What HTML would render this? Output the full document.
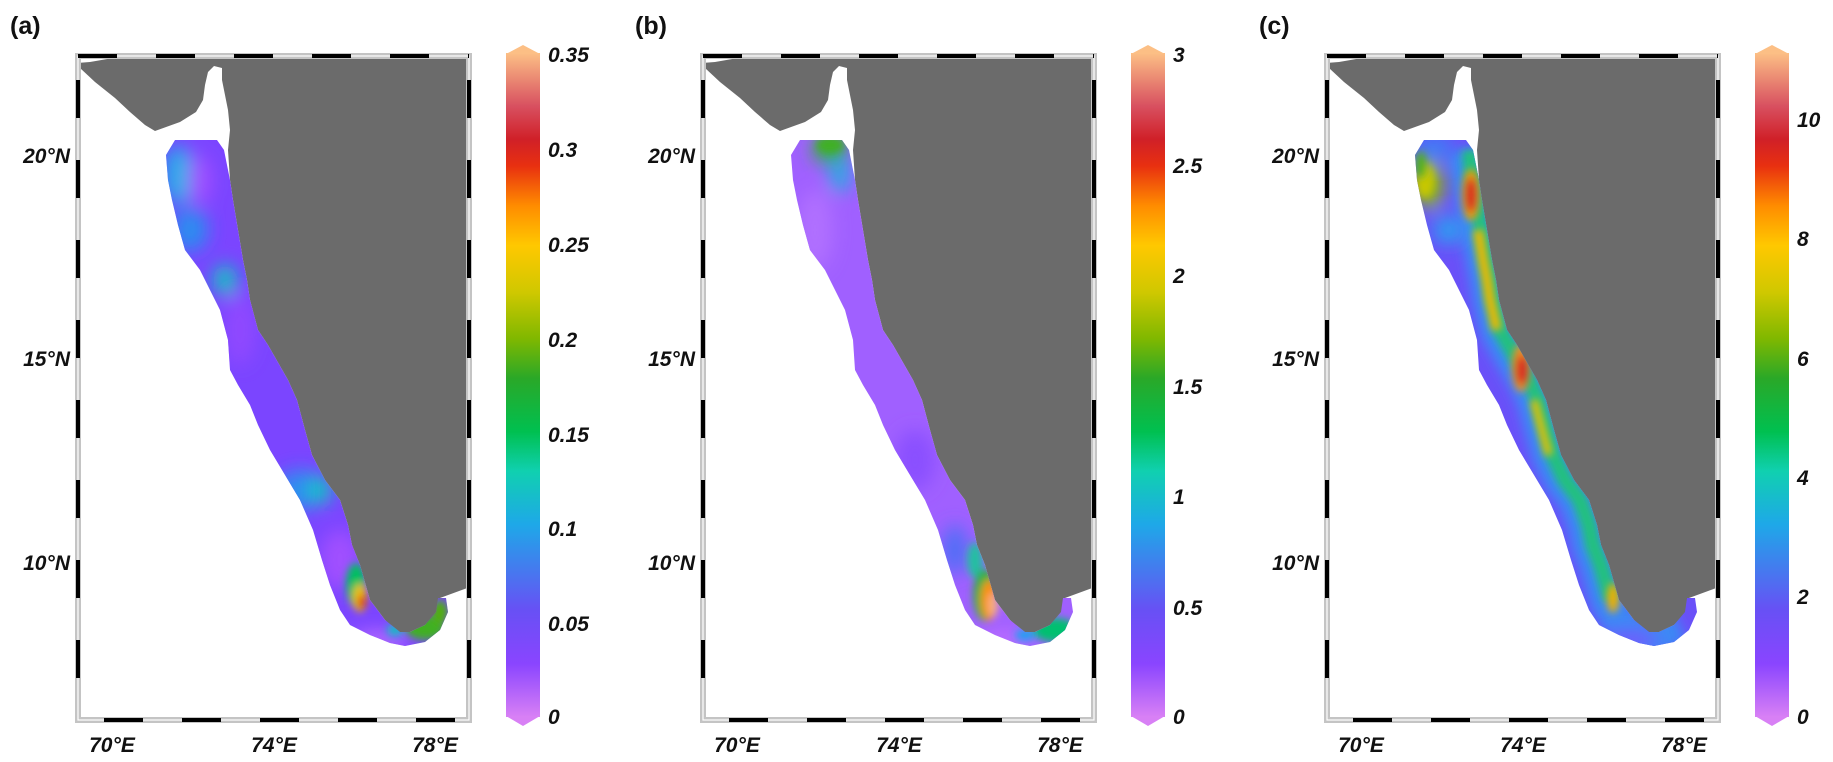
<!DOCTYPE html>
<html><head><meta charset="utf-8"><style>
html,body{margin:0;padding:0;background:#fff;}
svg{display:block;}
text{font-family:"Liberation Sans",Arial,sans-serif;font-weight:bold;fill:#111;}
.t{font-style:italic;font-size:21px;}
.p{font-size:25px;}
</style></head><body>
<svg width="1833" height="762" viewBox="0 0 1833 762" xmlns="http://www.w3.org/2000/svg">
<defs>
<linearGradient id="cm" x1="0" y1="717" x2="0" y2="53" gradientUnits="userSpaceOnUse">
<stop offset="0" stop-color="#d880f5"/>
<stop offset="0.08" stop-color="#8a45ff"/>
<stop offset="0.16" stop-color="#6850f5"/>
<stop offset="0.29" stop-color="#1ea8e8"/>
<stop offset="0.37" stop-color="#10d0b0"/>
<stop offset="0.43" stop-color="#00c050"/>
<stop offset="0.51" stop-color="#2aa828"/>
<stop offset="0.57" stop-color="#80b800"/>
<stop offset="0.64" stop-color="#d0c800"/>
<stop offset="0.71" stop-color="#ffc800"/>
<stop offset="0.77" stop-color="#ff8c00"/>
<stop offset="0.83" stop-color="#e83010"/>
<stop offset="0.87" stop-color="#d02028"/>
<stop offset="0.92" stop-color="#d85060"/>
<stop offset="1" stop-color="#fcbf85"/>
</linearGradient>
<clipPath id="band"><polygon points="175,140 217,140 224,150 230,180 233,200 238,230 243,260 247,280 250,300 258,330 268,345 288,380 297,400 305,430 312,455 325,480 340,500 348,525 352,545 360,565 370,600 385,620 400,632 410,632 425,625 436,612 438,598 446,598 448,612 440,630 425,642 405,646 390,643 370,635 350,625 340,610 330,585 322,560 313,530 300,500 285,475 270,450 258,425 250,405 238,385 230,370 228,340 220,310 210,290 200,270 185,250 178,225 172,200 168,180 166,155"/></clipPath>
<filter id="bl" x="-50%" y="-50%" width="200%" height="200%"><feGaussianBlur stdDeviation="9"/></filter>
<filter id="bs" x="-50%" y="-50%" width="200%" height="200%"><feGaussianBlur stdDeviation="4"/></filter>
<filter id="bm" x="-50%" y="-50%" width="200%" height="200%"><feGaussianBlur stdDeviation="6"/></filter>
<g id="frame">
<polygon fill="#6b6b6b" points="113,58 470,58 470,587 440,598 438,612 425,625 410,632 400,634 385,620 370,600 360,565 352,545 348,525 340,500 325,480 312,455 305,430 297,400 288,380 268,345 258,330 250,300 247,280 243,260 238,230 233,200 230,180 228,150 230,130 228,110 225,95 222,80 222,68 214,66 208,72 205,85 203,100 196,112 180,122 155,131 145,125 130,112 115,98 95,82 80,68 77,63 90,62"/>
<rect x="78" y="56" width="391" height="664" fill="none" stroke="#c4c4c4" stroke-width="6"/>
<rect x="78" y="56" width="391" height="664" fill="none" stroke="#fff" stroke-width="1.2"/>
<line x1="78" y1="56" x2="469" y2="56" stroke="#000" stroke-width="4" stroke-dasharray="39 39"/>
<line x1="78" y1="720" x2="469" y2="720" stroke="#000" stroke-width="4" stroke-dasharray="0 26 39 39 39 39 39 39 39 39 39 39"/>
<line x1="78" y1="80" x2="78" y2="720" stroke="#000" stroke-width="4" stroke-dasharray="38 42"/>
<line x1="469" y1="80" x2="469" y2="720" stroke="#000" stroke-width="4" stroke-dasharray="38 42"/>
<rect x="506" y="53" width="34" height="664" fill="url(#cm)"/>
<polygon points="506,54 523,45 540,54" fill="#fcbf85"/>
<polygon points="506,716 523,726 540,716" fill="#d880f5"/>
<text class="t" x="70" y="163" text-anchor="end">20°N</text>
<text class="t" x="70" y="366" text-anchor="end">15°N</text>
<text class="t" x="70" y="570" text-anchor="end">10°N</text>
<text class="t" x="112" y="752" text-anchor="middle">70°E</text>
<text class="t" x="274" y="752" text-anchor="middle">74°E</text>
<text class="t" x="435" y="752" text-anchor="middle">78°E</text>
</g>
</defs>

<!-- Panel a -->
<g>
<use href="#frame"/>
<g clip-path="url(#band)">
<rect x="150" y="130" width="310" height="530" fill="#7b45ff"/>
<g filter="url(#bl)">
<ellipse cx="178" cy="175" rx="14" ry="30" fill="#20b0e8"/>
<ellipse cx="190" cy="230" rx="18" ry="22" fill="#2a8cf0"/>
<ellipse cx="225" cy="280" rx="12" ry="15" fill="#10c8c0"/>
<ellipse cx="200" cy="180" rx="12" ry="25" fill="#a050ff"/>
<ellipse cx="240" cy="330" rx="15" ry="35" fill="#9048ff"/>
<ellipse cx="300" cy="490" rx="25" ry="20" fill="#2d8cf0"/>
<ellipse cx="320" cy="490" rx="12" ry="14" fill="#10c8c0"/>
<ellipse cx="340" cy="560" rx="20" ry="30" fill="#a050ff"/>
<ellipse cx="380" cy="640" rx="30" ry="8" fill="#c070ff"/>
</g>
<g filter="url(#bs)">
<ellipse cx="356" cy="585" rx="10" ry="22" fill="#00c060"/>
<ellipse cx="360" cy="598" rx="7" ry="14" fill="#f0c000"/>
<ellipse cx="362" cy="602" rx="4" ry="7" fill="#e02010"/>
<ellipse cx="425" cy="628" rx="20" ry="12" fill="#40b020"/>
<ellipse cx="440" cy="612" rx="8" ry="12" fill="#50b010"/>
<ellipse cx="395" cy="630" rx="8" ry="6" fill="#10c0c0"/>
</g>
</g>
<text class="p" x="10" y="34">(a)</text>
<text class="t" x="548" y="62">0.35</text>
<text class="t" x="548" y="157">0.3</text>
<text class="t" x="548" y="252">0.25</text>
<text class="t" x="548" y="347">0.2</text>
<text class="t" x="548" y="442">0.15</text>
<text class="t" x="548" y="536">0.1</text>
<text class="t" x="548" y="631">0.05</text>
<text class="t" x="548" y="724">0</text>
</g>

<!-- Panel b -->
<g transform="translate(625,0)">
<use href="#frame"/>
<g clip-path="url(#band)">
<rect x="150" y="130" width="310" height="530" fill="#a060ff"/>
<g filter="url(#bl)">
<ellipse cx="205" cy="150" rx="18" ry="14" fill="#30b040"/>
<ellipse cx="215" cy="175" rx="10" ry="18" fill="#20b0e0"/>
<ellipse cx="190" cy="230" rx="18" ry="40" fill="#b070ff"/>
<ellipse cx="290" cy="460" rx="20" ry="30" fill="#8a50ff"/>
<ellipse cx="330" cy="550" rx="12" ry="25" fill="#4a70f5"/>
<ellipse cx="380" cy="640" rx="30" ry="8" fill="#c070ff"/>
</g>
<g filter="url(#bs)">
<ellipse cx="205" cy="145" rx="14" ry="8" fill="#40b020"/>
<ellipse cx="350" cy="560" rx="8" ry="18" fill="#20c0a0"/>
<ellipse cx="360" cy="595" rx="12" ry="26" fill="#30b040"/>
<ellipse cx="364" cy="600" rx="8" ry="20" fill="#ff9000"/>
<ellipse cx="368" cy="605" rx="5" ry="12" fill="#f8b080"/>
<ellipse cx="430" cy="630" rx="22" ry="12" fill="#00c070"/>
<ellipse cx="400" cy="635" rx="10" ry="6" fill="#20a0f0"/>
</g>
</g>
<text class="p" x="10" y="34">(b)</text>
<text class="t" x="548" y="62">3</text>
<text class="t" x="548" y="173">2.5</text>
<text class="t" x="548" y="283">2</text>
<text class="t" x="548" y="394">1.5</text>
<text class="t" x="548" y="504">1</text>
<text class="t" x="548" y="615">0.5</text>
<text class="t" x="548" y="724">0</text>
</g>

<!-- Panel c -->
<g transform="translate(1249,0)">
<use href="#frame"/>
<g clip-path="url(#band)">
<rect x="150" y="130" width="310" height="530" fill="#6a50f8"/>
<polyline filter="url(#bm)" fill="none" stroke="#3a8af5" stroke-width="34" points="215,150 220,180 224,200 229,230 234,260 238,280 241,300 248,330 256,345 276,380 285,400 293,430 300,455 312,480 327,500 336,525 340,545 348,565 358,600 372,625 400,640 430,625"/>
<polyline filter="url(#bs)" fill="none" stroke="#20c080" stroke-width="16" points="220,150 224,180 227,200 232,230 237,260 241,280 244,300 251,330 260,345 280,380 289,400 297,430 304,455 316,480 331,500 340,525 344,545 352,565 362,600"/>
<g filter="url(#bl)">
<ellipse cx="185" cy="148" rx="20" ry="12" fill="#3a80f5"/>
<ellipse cx="180" cy="185" rx="14" ry="24" fill="#90c000"/>
<ellipse cx="200" cy="230" rx="16" ry="14" fill="#2aa0f0"/>
<ellipse cx="380" cy="640" rx="30" ry="8" fill="#8050ff"/>
</g>
<g filter="url(#bs)">
<ellipse cx="176" cy="180" rx="9" ry="18" fill="#c8c800"/>
<ellipse cx="172" cy="165" rx="6" ry="14" fill="#50b020"/>
<polyline fill="none" stroke="#f0b800" stroke-width="10" points="229,230 234,260 238,280 241,300 248,330"/>
<polyline fill="none" stroke="#e8c000" stroke-width="8" points="285,400 293,430 300,455"/>
<ellipse cx="222" cy="195" rx="9" ry="26" fill="#f0a000"/>
<ellipse cx="222" cy="195" rx="6" ry="18" fill="#d82020"/>
<ellipse cx="272" cy="368" rx="9" ry="24" fill="#f09020"/>
<ellipse cx="273" cy="370" rx="6" ry="15" fill="#d82020"/>
<ellipse cx="364" cy="598" rx="6" ry="15" fill="#f0b000"/>
</g>
</g>
<text class="p" x="10" y="34">(c)</text>
<text class="t" x="548" y="127">10</text>
<text class="t" x="548" y="246">8</text>
<text class="t" x="548" y="366">6</text>
<text class="t" x="548" y="485">4</text>
<text class="t" x="548" y="604">2</text>
<text class="t" x="548" y="724">0</text>
</g>
</svg>
</body></html>
